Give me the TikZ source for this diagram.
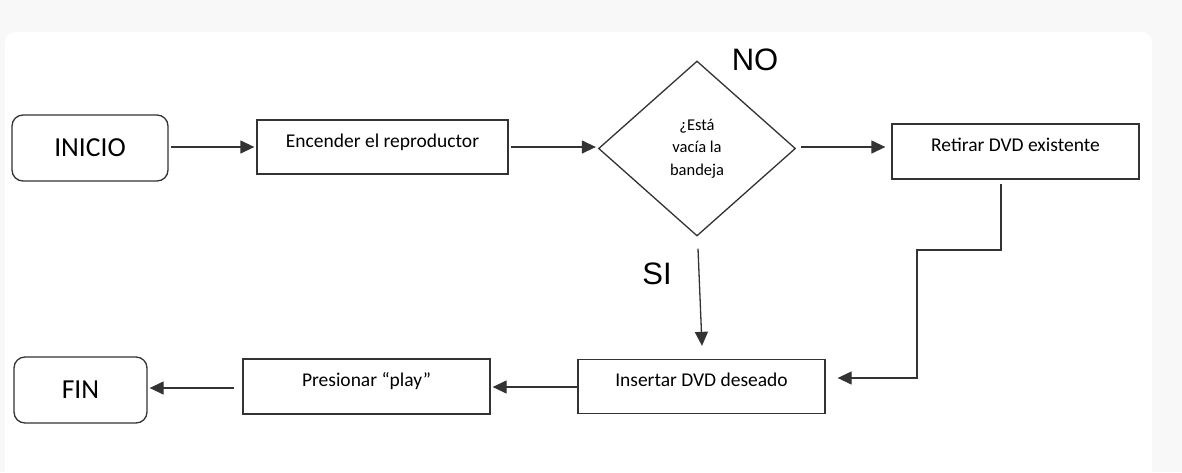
\documentclass[tikz,border=0pt]{standalone}
\usepackage{fontspec}
\setmainfont{Carlito}
\newfontfamily\arialfont{Liberation Sans}
\usetikzlibrary{shapes.geometric,arrows.meta,calc}
\definecolor{bggray}{HTML}{F8F8F8}
\definecolor{edge}{HTML}{333333}
\tikzset{
  boxstyle/.style={draw=edge, line width=1.3pt, rectangle, inner sep=0pt,
    font=\fontsize{19.5}{22}\selectfont, text height=10pt, text depth=10pt},
  termstyle/.style={draw=edge, line width=1.3pt, rectangle, rounded corners=11pt,
    inner sep=0pt, font=\fontsize{27.5}{30}\selectfont},
  decstyle/.style={draw=edge, line width=1.3pt, diamond, inner sep=0pt,
    minimum width=197pt, minimum height=175pt, align=center,
    font=\fontsize{16.5}{22.5}\selectfont},
  lblstyle/.style={font=\arialfont\fontsize{31}{34}\selectfont, inner sep=0pt},
  arr/.style={draw=edge, line width=1.3pt, -{Triangle[length=14pt,width=13pt]}}
}
\begin{document}
\begin{tikzpicture}[x=1pt,y=-1pt]
\useasboundingbox (0,0) rectangle (1182,472);
\fill[bggray] (0,0) rectangle (1182,472);
\fill[white, rounded corners=10pt] (5,32) rectangle (1152,490);

\node[termstyle, minimum width=156pt, minimum height=66pt] (ini) at (90,148) {INICIO};
\node[boxstyle, minimum width=251pt, minimum height=54pt] (enc) at (382.5,147) {Encender el reproductor};
\node[decstyle] (dec) at (697,148.5) {¿Está\\vacía la\\bandeja};
\node[boxstyle, minimum width=247pt, minimum height=55pt] (ret) at (1015.5,151.5) {Retirar DVD existente};
\node[boxstyle, minimum width=247pt, minimum height=54pt] (ins) at (701.5,386.5) {Insertar DVD deseado};
\node[boxstyle, minimum width=247pt, minimum height=55pt] (pre) at (366.5,386.5) {Presionar “play”};
\node[termstyle, minimum width=133pt, minimum height=66pt] (fin) at (80.5,390) {FIN};

\node[lblstyle] (no) at (755,60) {NO};
\node[lblstyle] (si) at (657,274) {SI};

\draw[arr, shorten <=2pt, shorten >=2pt] (ini.east |- enc.west) -- (enc.west);
\draw[arr, shorten <=2pt, shorten >=2pt] (enc.east) -- (enc.east -| dec.west);
\draw[arr, shorten <=5pt, shorten >=6pt] (dec.east |- 0,147) -- (ret.west |- 0,147);
\draw[arr] ($(dec.south)+(1,12)$) -- ($(ins.north)+(0.5,-13)$);

\coordinate (k1) at (1001,250);
\coordinate (k2) at (917,250);
\coordinate (k3) at (917,378);
\draw[arr, shorten <=4pt, shorten >=12pt] (k1 |- ret.south) -- (k1) -- (k2) -- (k3) -- (ins.east |- k3);

\draw[arr, shorten >=2pt] (ins.west |- 0,387) -- (pre.east |- 0,387);
\draw[arr, shorten <=8pt, shorten >=2pt] (pre.west |- 0,388) -- (fin.east |- 0,388);
\end{tikzpicture}
\end{document}
